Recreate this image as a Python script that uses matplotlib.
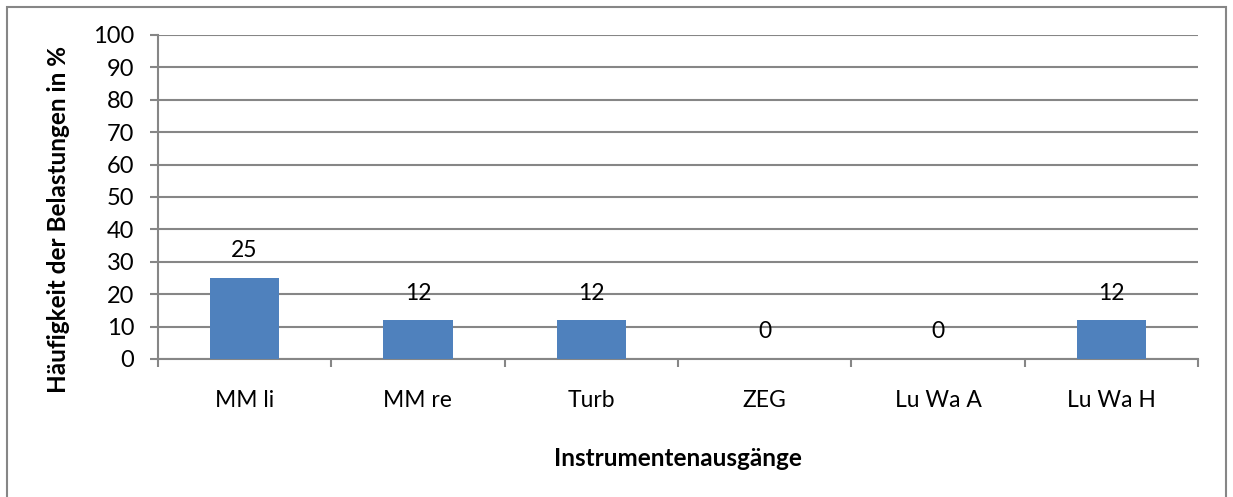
import matplotlib
matplotlib.use('Agg')
import matplotlib.pyplot as plt
from matplotlib.patches import Rectangle

# ── data ─────────────────────────────────────────────────────────────────────
categories = ["MM li", "MM re", "Turb", "ZEG", "Lu Wa A", "Lu Wa H"]
values = [25, 12, 12, 0, 0, 12]
y_ticks = list(range(0, 101, 10))

BAR = '#4F81BD'
GRID = '#868686'

plt.rcParams['font.family'] = ['Lato', 'DejaVu Sans']

fig = plt.figure(figsize=(12.33, 4.97), dpi=100)
ax = fig.add_axes([0.128, 0.2777, 0.8436, 0.652])

# outer chart border (Excel style), bottom edge runs off the image
fig.patches.append(Rectangle((7/1233, -10/497), 1 - 14/1233, 1 + 3/497,
                             transform=fig.transFigure, fill=False,
                             edgecolor=GRID, linewidth=1.5))

x = list(range(len(categories)))
ax.bar(x, values, width=0.4, color=BAR, zorder=3)

for xi, v in zip(x, values):
    ax.annotate(str(v), (xi, v), xytext=(0, 19.5), textcoords='offset points',
                ha='center', va='center', fontsize=16.5, color='black')

ax.set_xlim(-0.5, len(categories) - 0.5)
ax.set_ylim(0, 100)
ax.set_yticks(y_ticks)
ax.set_yticklabels([str(t) for t in y_ticks], fontsize=17)
ax.yaxis.grid(True, color=GRID, linewidth=1.5, zorder=0)
ax.set_axisbelow(True)

ax.set_xticks(x)
ax.set_xticklabels(categories, fontsize=16.5)
ax.tick_params(axis='x', length=0, pad=22)
ax.set_xticks([i - 0.5 for i in range(len(categories) + 1)], minor=True)
ax.tick_params(axis='x', which='minor', length=6, width=1.5, color=GRID, direction='out')
ax.tick_params(axis='y', length=6, width=1.5, color=GRID, pad=11)

for side in ['top', 'right']:
    ax.spines[side].set_visible(False)
for side in ['left', 'bottom']:
    ax.spines[side].set_color(GRID)
    ax.spines[side].set_linewidth(1.5)

ax.set_xlabel('Instrumentenausgänge', fontsize=17.5, fontweight='bold')
ax.set_ylabel('Häufigkeit der Belastungen in %', fontsize=17.5, fontweight='bold')
ax.xaxis.label.set_va('center')
ax.yaxis.label.set_va('center')
ax.xaxis.set_label_coords(0.5, -0.3056)
ax.yaxis.set_label_coords(-0.0952, 0.429)

fig.savefig('out.png', dpi=100, facecolor='white')
